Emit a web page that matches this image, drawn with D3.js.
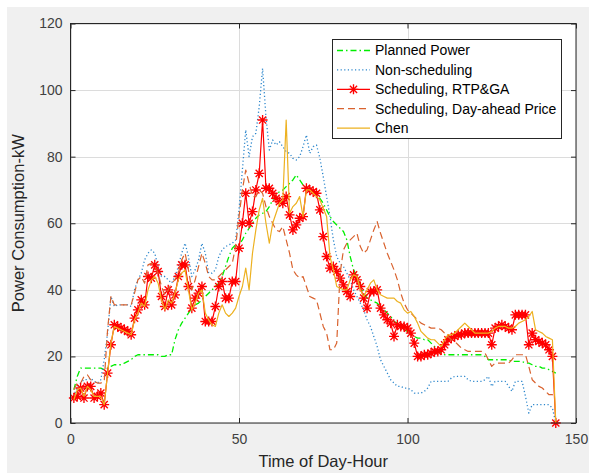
<!DOCTYPE html>
<html><head><meta charset="utf-8">
<script src="https://cdn.jsdelivr.net/npm/d3@7"></script>
<style>
body{margin:0;background:#fff}
svg{display:block}
text{font-family:"Liberation Sans",Arial,Helvetica,sans-serif}
</style>
</head><body><svg id="c" width="589" height="473"></svg>
<script>
// ---- data ----
const hours = d3.range(1, 145);
const xTicks = [0, 50, 100, 150];
const yTicks = [0, 20, 40, 60, 80, 100, 120];
const seriesNames = ["Planned Power", "Non-scheduling", "Scheduling, RTP&GA", "Scheduling, Day-ahead Price", "Chen"];

const planned = [
10,14,16.5,16.5,16.5,16.5,16.5,16.5,16.5,16,
16.5,17,17.5,17.5,17.5,18,18.5,19,20,20.5,
20.5,20.5,20.5,20.5,20.5,20.5,20,20,20.5,20.5,
25,28,30,31.5,33,34.5,35.5,36,37,38,
39,40,41,42,44,47,50,52.5,53.5,53.5,
55,57,58.5,60,61.5,62.5,63,63.5,65,67,
68.5,69.5,70,71,72,73,74.5,73,71.5,71,
70.5,69.5,68.5,67.5,66,64,62,60.5,59.5,58.5,
57.5,55,50,46,44,42,39,37.5,37,36.5,
36,35,34,33,32,30.5,30,29,28,27.5,
26.5,26,25.5,25.5,25,25,24,23,21.5,21,
20.5,20.5,20.5,20.5,20.5,20.5,20.5,20.5,20.5,20.5,
20.5,20.5,20,19,19,19,19,19,19,19,
18.5,18.5,18.5,18.5,18,18,17.5,17,17,16.5,
16.5,16,15.5,15];

const nonScheduling = [
8,11,12,13,13,13.5,12.5,12,13,19,
27,38,35,35.5,35.5,35.5,35.5,35,40,43,
45,49,51,52,51,47,44,44,43,42,
44,47,51,54,50,44,46,49,54,51,
45,45,46,50,52,53,53.5,54,55,64,
76,88,80,86,87,95,106.5,92,82,85,
83.5,84.5,83,81.5,81,79.5,79,80,83,86.5,
81,83,83.5,79.5,74,68,62,55,50,48,
47,45,43,40,38,36,34,31,29,26,
23,19,17,15,13,12,11,11,10.5,10.5,
10,9,9,9,9.5,10.5,12.5,12.5,12.5,12.5,
12.5,12.5,13.5,14,14,14,14,13,12.5,12.5,
12.5,12.5,13,14,11,12.5,12.5,12.5,12.5,11,
9.5,12.5,12.5,12.5,8,3,5.5,5.5,5.5,5.5,
5.5,5.5,4.5,0];

const rtpGA = [
7.5,8,10.5,7.5,11,11,7.5,8,9,5.5,
15,23.5,29.5,29,28.5,28,27.5,26.5,31.5,34,
37,35.5,44,43.5,47.5,45.5,38,35,40,35.5,
38.5,44,47.5,47.5,41,34.5,37.5,39,41,30.5,
30.5,30.5,35,41,42.5,37.5,37.5,42.5,42.5,52.5,
60,69,60,63.5,70,75,91,70.5,70.5,69,
67.5,66.5,66,68,62.5,58,59.5,61.5,62,70.5,
70,69.5,69,64,56,50,46.5,47,45.5,43.5,
41.5,39.5,38,44.5,43,41,37.5,34.5,39.5,39.5,
40,34.5,32.5,31,30,26,29.5,29,29,28.5,
27,24,20,20,20.5,20.5,21,21.5,21.5,22,
23.5,25,25.5,26,26.5,26.5,27,27,27,27,
27,27,27,27,23.5,28.5,29,29.5,29,28.5,
28,32.5,32.5,32.5,32.5,23.5,27,25,24.5,24,
23.5,22,20,0];

const dayAhead = [
10,12,12,14,14.5,13,12.5,12,12,12.5,
28,38,35.5,35.5,35.5,35.5,35.5,35.5,39,43,
44,42,47.5,48,47,45,41,38.5,40,42,
43,45,49,51,46,40,43,47,51,48,
44,43,43,44,45,46,47,48,53,62,
70,76,72,68,68,70,69,65,62,60,
58,57.5,59,55,51,46,44.5,43.5,44,41,
38,37.5,37,33,29,27,22,22,24,45,
52,54,55,56,57,53,51,52,55,58,
60.5,57,54,51,48.5,46,43,39,36,34,
33,32,31,30,29.5,29,28.5,28.5,28.5,28,
27,26,25,24.5,23.5,22.5,22,21.5,21.5,21.5,
21.5,21.5,21,19,17,18,18,18,18,18,
19,20.5,20.5,20.5,20.5,17,13,12,11,10.5,
9.5,8.5,8.5,8];

const chen = [
7,10,10.5,8,11,10,8,8,8,5.5,
15,24,29,28.5,28,27.5,27,26.5,31,33,
36,35,40,43,44,42,37,34,37,36,
39,43,45,46,40,34,36,39,40,33,
31,29.5,29,33,35.5,33,32,33,34.5,38,
41,46.5,40,51,58,64,67.5,60,54,60,
63,66,67,91,63,65,66,68,62,70,
70,69,68,67,64.5,62,50,46,41,40.5,
40,40,43,44.5,44,40,38,40,42,43,
40,38.5,38,37.5,37.5,37.5,36.5,36,34,33,
33.5,32,30,27.5,26.5,25.5,25,25,24,23,
25,26.5,26.5,27,28,29,30,29,28,27,
27,27,27,27,27.5,28.5,29,29,29,28.5,
28.5,29,30,30.5,31,32,33.5,28,27.5,27,
26,25.5,25,0];

// ---- chart ----
const W = 589, H = 473;
const svg = d3.select("#c");
svg.append("rect").attr("x", 7).attr("y", 7).attr("width", W - 7).attr("height", H - 7).attr("fill", "#f0f0f0");

const m = {l: 70.5, r: 576, t: 23.5, b: 423};
const x = d3.scaleLinear().domain([0, 150]).range([m.l, m.r]);
const y = d3.scaleLinear().domain([0, 120]).range([m.b, m.t]);

svg.append("rect").attr("x", m.l).attr("y", m.t).attr("width", m.r - m.l).attr("height", m.b - m.t).attr("fill", "#fff");

// grid
const grid = svg.append("g").attr("stroke", "#dcdcdc").attr("stroke-width", 1);
xTicks.forEach(v => grid.append("line").attr("x1", Math.round(x(v)) + 0.5).attr("x2", Math.round(x(v)) + 0.5).attr("y1", m.t).attr("y2", m.b));
yTicks.forEach(v => grid.append("line").attr("y1", Math.round(y(v)) + 0.5).attr("y2", Math.round(y(v)) + 0.5).attr("x1", m.l).attr("x2", m.r));

svg.append("defs").append("clipPath").attr("id", "clip")
  .append("rect").attr("x", m.l - 6).attr("y", m.t).attr("width", m.r - m.l + 12).attr("height", m.b - m.t + 6);

const plot = svg.append("g").attr("clip-path", "url(#clip)");
const line = d3.line().x((d, i) => x(hours[i])).y(d => y(d));

const styles = [
  {data: planned, color: "#00ee00", dash: "6,3,1.5,3", w: 1.3},
  {data: nonScheduling, color: "#2b86cc", dash: "1.2,2.4", w: 1.3},
  {data: rtpGA, color: "#ff0000", dash: null, w: 1.2, marker: true},
  {data: dayAhead, color: "#d9622e", dash: "7,4", w: 1.2},
  {data: chen, color: "#edb120", dash: null, w: 1.2}
];

function star(g, cx, cy, r, color) {
  const d = r * 0.72;
  g.append("path")
    .attr("d", `M${cx - r},${cy}L${cx + r},${cy}M${cx},${cy - r}L${cx},${cy + r}M${cx - d},${cy - d}L${cx + d},${cy + d}M${cx - d},${cy + d}L${cx + d},${cy - d}`)
    .attr("stroke", color).attr("stroke-width", 1.35).attr("fill", "none");
}

styles.forEach(s => {
  plot.append("path").datum(s.data).attr("d", line)
    .attr("fill", "none").attr("stroke", s.color).attr("stroke-width", s.w)
    .attr("stroke-dasharray", s.dash).attr("stroke-linejoin", "round");
  if (s.marker) {
    const mg = plot.append("g");
    s.data.forEach((v, i) => star(mg, x(hours[i]), y(v), 5, s.color));
  }
});

// axes
const axCol = "#262626";
const gx = svg.append("g").attr("transform", `translate(0,${m.b})`)
  .call(d3.axisBottom(x).tickValues(xTicks).tickSizeInner(-5).tickSizeOuter(0).tickPadding(11));
const gxt = svg.append("g").attr("transform", `translate(0,${m.t})`)
  .call(d3.axisTop(x).tickValues(xTicks).tickSizeInner(-5).tickSizeOuter(0).tickFormat(""));
const gy = svg.append("g").attr("transform", `translate(${m.l},0)`)
  .call(d3.axisLeft(y).tickValues(yTicks).tickSizeInner(-5).tickSizeOuter(0).tickPadding(8));
const gyr = svg.append("g").attr("transform", `translate(${m.r},0)`)
  .call(d3.axisRight(y).tickValues(yTicks).tickSizeInner(-5).tickSizeOuter(0).tickFormat(""));
[gx, gxt, gy, gyr].forEach(g => {
  g.select(".domain").remove();
  g.selectAll("line").attr("stroke", axCol);
  g.selectAll("text").attr("fill", "#404040").attr("font-size", 14)
    .attr("font-family", '"Liberation Sans",Arial,sans-serif');
});

svg.append("rect").attr("x", m.l).attr("y", m.t).attr("width", m.r - m.l).attr("height", m.b - m.t)
  .attr("fill", "none").attr("stroke", axCol).attr("stroke-width", 1);

// axis labels
svg.append("text").attr("x", (m.l + m.r) / 2).attr("y", 467).attr("text-anchor", "middle")
  .attr("font-size", 16.5).attr("fill", "#262626").text("Time of Day-Hour");
svg.append("text").attr("transform", `translate(23.5,${(m.t + m.b) / 2}) rotate(-90)`).attr("text-anchor", "middle")
  .attr("font-size", 16.5).attr("fill", "#262626").text("Power Consumption-kW");

// legend
const lg = svg.append("g");
lg.append("rect").attr("x", 332.5).attr("y", 39.5).attr("width", 229).attr("height", 99)
  .attr("fill", "#fff").attr("stroke", axCol).attr("stroke-width", 1);
seriesNames.forEach((name, i) => {
  const s = styles[i];
  const ly = 50.5 + i * 19.4;
  lg.append("line").attr("x1", 337).attr("x2", 370).attr("y1", ly).attr("y2", ly)
    .attr("stroke", s.color).attr("stroke-width", s.w).attr("stroke-dasharray", s.dash);
  if (s.marker) star(lg, 353.5, ly, 5, s.color);
  lg.append("text").attr("x", 375).attr("y", ly).attr("dy", "0.35em")
    .attr("font-size", 14).attr("fill", "#000").text(name);
});
</script>
</body></html>
